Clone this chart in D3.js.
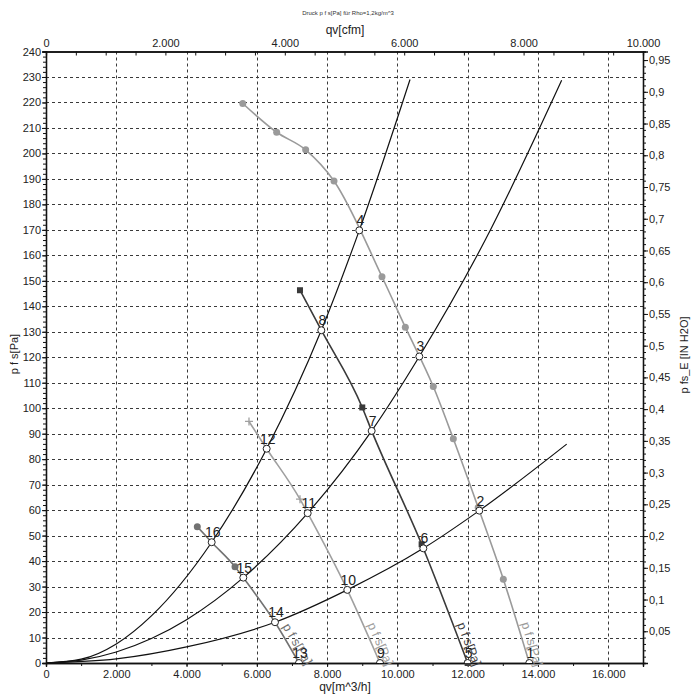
<!DOCTYPE html>
<html>
<head>
<meta charset="utf-8">
<script src="https://cdn.jsdelivr.net/npm/d3@7/dist/d3.min.js"></script>
<style>
body { margin: 0; background: #fff; }
text { font-family: "Liberation Sans", Arial, sans-serif; }
</style>
</head>
<body>
<svg id="chart" width="700" height="700"></svg>
<script>
// system curves, qv [m^3/h] / p f s [Pa]
var sysA_q = [0, 1000, 2000, 3000, 4715, 6280, 7835, 8916, 10360];
var sysA_p = [0, 1.5, 7.5, 18.5, 47.4, 84.1, 130.6, 169.8, 229];
var sysB_q = [0, 1000, 2000, 3000, 4000, 5615, 7447, 9268, 10624, 12500, 14675];
var sysB_p = [0, 1.1, 4.3, 9.6, 17, 33.5, 58.8, 91.1, 120.3, 166, 228.7];
var sysC_q = [0, 2000, 4000, 6517, 8575, 10738, 12331, 14818];
var sysC_p = [0, 1.6, 6.3, 16, 28.7, 45, 59.8, 85.9];

// fan curves (line points) and which of them carry a marker
var fan1_q = [5600, 6565, 7390, 8196, 9562, 10226, 11022, 11592, 12300, 13015, 13754];
var fan1_p = [219.6, 208.3, 201.4, 189.2, 151.6, 131.8, 108.5, 88.0, 61.0, 32.9, 0];
var fan1_mk = [0, 1, 2, 3, 4, 5, 6, 7, 8, 9];
var fan2_q = [7228, 7835, 9001, 9268, 10690, 12000];
var fan2_p = [146.3, 130.6, 100.3, 91.1, 46.6, 0];
var fan2_mk = [0, 2, 4, 5];
var fan3_q = [5777, 6280, 7228, 7447, 8575, 9505];
var fan3_p = [94.8, 84.1, 64.3, 58.8, 28.7, 0];
var fan3_mk = [0, 2];
var fan4_q = [4306, 4715, 5379, 5615, 6517, 7200];
var fan4_p = [53.5, 47.4, 37.8, 33.5, 16.0, 0];
var fan4_mk = [0, 2];

// operating points
var op_lbl = ["1","2","3","4","5","6","7","8","9","10","11","12","13","14","15","16"];
var op_q = [13754, 12331, 10624, 8916, 12000, 10738, 9268, 7835, 9505, 8575, 7447, 6280, 7200, 6517, 5615, 4715];
var op_p = [0, 59.8, 120.3, 169.8, 0, 45.0, 91.1, 130.6, 0, 28.7, 58.8, 84.1, 0, 16.0, 33.5, 47.4];

var xTicks = [0, 2000, 4000, 6000, 8000, 10000, 12000, 14000, 16000];
var cfmTicks = [0, 2000, 4000, 6000, 8000, 10000];
var yTicks = d3.range(0, 241, 10);
var inTicks = [0.05,0.1,0.15,0.2,0.25,0.3,0.35,0.4,0.45,0.5,0.55,0.6,0.65,0.7,0.75,0.8,0.85,0.9,0.95];

var M3H_PER_CFM = 1.699;
var PA_PER_INH2O = 249.089;

var L = 46, R = 643, T = 51.5, B = 663;
var svg = d3.select("#chart");

var x = d3.scaleLinear().domain([0, 10000 * M3H_PER_CFM]).range([L, R]);
var xc = d3.scaleLinear().domain([0, 10000]).range([L, R]);
var y = d3.scaleLinear().domain([0, 240]).range([B, T]);
var yi = d3.scaleLinear().domain([0, 240 / PA_PER_INH2O]).range([B, T]);

var loc = d3.formatLocale({decimal: ",", thousands: ".", grouping: [3], currency: ["", ""]});
var fmtThou = loc.format(",.0f");
var fmtDec = loc.format(".2~f");

// grid
var grid = svg.append("g").attr("stroke", "#3a3a3a").attr("stroke-width", 1).attr("stroke-dasharray", "3,3");
grid.selectAll(".gv").data(xTicks.slice(1)).enter().append("line")
  .attr("x1", function(d){ return Math.round(x(d)) + 0.5; })
  .attr("x2", function(d){ return Math.round(x(d)) + 0.5; })
  .attr("y1", T).attr("y2", B);
grid.selectAll(".gh").data(yTicks.slice(1, -1)).enter().append("line")
  .attr("y1", function(d){ return Math.round(y(d)) + 0.5; })
  .attr("y2", function(d){ return Math.round(y(d)) + 0.5; })
  .attr("x1", L).attr("x2", R);

// axes
function styleAxis(g){
  g.selectAll("text").attr("font-size", 11).attr("fill", "#222")
    .style("font-family", '"Liberation Sans", Arial, sans-serif');
  g.selectAll("line,path").attr("stroke", "#111");
  g.select(".domain").attr("stroke-width", 1.3);
}
svg.append("g").attr("transform", "translate(" + L + ",0)")
  .call(d3.axisLeft(y).tickValues(d3.range(0, 241, 2)).tickSize(3).tickFormat(""))
  .call(styleAxis);
svg.append("g").attr("transform", "translate(" + L + ",0)")
  .call(d3.axisLeft(y).tickValues(yTicks).tickSize(4).tickPadding(1).tickFormat(d3.format("d")))
  .call(styleAxis);
svg.append("g").attr("transform", "translate(" + R + ",0)")
  .call(d3.axisRight(yi).tickValues(d3.range(0, 0.96, 0.01)).tickSize(3).tickFormat(""))
  .call(styleAxis);
svg.append("g").attr("transform", "translate(" + R + ",0)")
  .call(d3.axisRight(yi).tickValues(inTicks).tickSize(5).tickPadding(1).tickFormat(fmtDec))
  .call(styleAxis);
svg.append("g").attr("transform", "translate(0," + B + ")")
  .call(d3.axisBottom(x).tickValues(d3.range(0, 17000, 1000)).tickSize(3).tickFormat(""))
  .call(styleAxis);
svg.append("g").attr("transform", "translate(0," + B + ")")
  .call(d3.axisBottom(x).tickValues(xTicks).tickSize(4).tickPadding(3).tickFormat(fmtThou))
  .call(styleAxis);
svg.append("g").attr("transform", "translate(0," + T + ")")
  .call(d3.axisTop(xc).tickValues(d3.range(0, 10001, 500)).tickSize(-4).tickFormat(""))
  .call(styleAxis);
svg.append("g").attr("transform", "translate(0," + T + ")")
  .call(d3.axisTop(xc).tickValues(cfmTicks).tickSize(0).tickPadding(5).tickFormat(fmtThou))
  .call(styleAxis);

// titles
svg.append("text").attr("x", 348).attr("y", 15).attr("text-anchor", "middle")
  .attr("font-size", 6).attr("fill", "#333").text("Druck p f s[Pa] für Rho=1,2kg/m^3");
svg.append("text").attr("x", 345).attr("y", 34).attr("text-anchor", "middle")
  .attr("font-size", 12).attr("fill", "#222").text("qv[cfm]");
svg.append("text").attr("x", 345).attr("y", 691).attr("text-anchor", "middle")
  .attr("font-size", 12).attr("fill", "#222").text("qv[m^3/h]");
svg.append("text").attr("transform", "translate(18,354) rotate(-90)").attr("text-anchor", "middle")
  .attr("font-size", 11).attr("fill", "#222").text("p f s[Pa]");
svg.append("text").attr("transform", "translate(688,355) rotate(-90)").attr("text-anchor", "middle")
  .attr("font-size", 11).attr("fill", "#222").text("p fs_E [IN H2O]");

var line = d3.line().x(function(d){ return x(d[0]); }).y(function(d){ return y(d[1]); })
  .curve(d3.curveMonotoneX);
function zip(q, p){ return q.map(function(v, i){ return [v, p[i]]; }); }

// system curves
[[sysA_q, sysA_p], [sysB_q, sysB_p], [sysC_q, sysC_p]].forEach(function(s){
  svg.append("path").datum(zip(s[0], s[1])).attr("d", line)
    .attr("fill", "none").attr("stroke", "#111").attr("stroke-width", 1.2);
});

// fan curves
var fans = [
  {q: fan1_q, p: fan1_p, mk: fan1_mk, color: "#9a9a9a", shape: "dot"},
  {q: fan2_q, p: fan2_p, mk: fan2_mk, color: "#3a3a3a", shape: "square"},
  {q: fan3_q, p: fan3_p, mk: fan3_mk, color: "#a0a0a0", shape: "plus"},
  {q: fan4_q, p: fan4_p, mk: fan4_mk, color: "#727272", shape: "dot"}
];
fans.forEach(function(f){
  var pts = zip(f.q, f.p);
  svg.append("path").datum(pts).attr("d", line)
    .attr("fill", "none").attr("stroke", f.color).attr("stroke-width", 1.6);
  var mks = f.mk.map(function(i){ return pts[i]; });
  var g = svg.append("g");
  if (f.shape == "dot") {
    g.selectAll("circle").data(mks).enter().append("circle")
      .attr("cx", function(d){ return x(d[0]); }).attr("cy", function(d){ return y(d[1]); })
      .attr("r", 3.5).attr("fill", f.color);
  } else if (f.shape == "square") {
    g.selectAll("rect").data(mks).enter().append("rect")
      .attr("x", function(d){ return x(d[0]) - 3; }).attr("y", function(d){ return y(d[1]) - 3; })
      .attr("width", 6).attr("height", 6).attr("fill", f.color);
  } else {
    g.selectAll("path").data(mks).enter().append("path")
      .attr("d", function(d){ var cx = x(d[0]), cy = y(d[1]);
        return "M" + (cx - 4) + "," + cy + "H" + (cx + 4) + "M" + cx + "," + (cy - 4) + "V" + (cy + 4); })
      .attr("stroke", f.color).attr("stroke-width", 1.3);
  }
  // rotated curve label near the axis end, a little right of the line
  var n = pts.length;
  var x1 = x(pts[n-2][0]), y1 = y(pts[n-2][1]), x2 = x(pts[n-1][0]), y2 = y(pts[n-1][1]);
  var len = Math.sqrt((x2-x1)*(x2-x1) + (y2-y1)*(y2-y1));
  var ux = (x2-x1)/len, uy = (y2-y1)/len;
  var ang = Math.atan2(uy, ux) * 180 / Math.PI;
  var sx = x2 - 40*ux + 4*uy, sy = y2 - 40*uy - 4*ux;
  svg.append("text").attr("transform", "translate(" + sx + "," + sy + ") rotate(" + ang + ")")
    .attr("font-size", 12.5).attr("fill", f.color).text("p f s[Pa]");
});

// operating points
svg.append("clipPath").attr("id", "plotclip").append("rect")
  .attr("x", L).attr("y", T).attr("width", R - L).attr("height", B - T);
var ops = op_q.map(function(q, i){ return {q: q, p: op_p[i], l: op_lbl[i]}; });
svg.append("g").attr("clip-path", "url(#plotclip)").selectAll("circle").data(ops).enter().append("circle")
  .attr("cx", function(d){ return x(d.q); }).attr("cy", function(d){ return y(d.p); })
  .attr("r", 3.5).attr("fill", "#fff").attr("stroke", "#222").attr("stroke-width", 1);
svg.append("g").selectAll("text").data(ops).enter().append("text")
  .attr("x", function(d){ return x(d.q) + 1; }).attr("y", function(d){ return y(d.p) - 5; })
  .attr("text-anchor", "middle").attr("font-size", 14).attr("fill", "#222")
  .text(function(d){ return d.l; });
</script>
</body>
</html>
